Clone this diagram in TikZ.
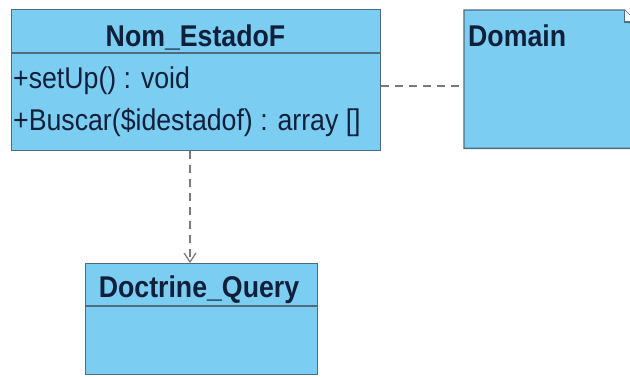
\documentclass[tikz,border=0pt]{standalone}
\usepackage{fontspec}
\setmainfont{Liberation Sans}[FakeStretch=0.89]
\usetikzlibrary{arrows.meta}
\definecolor{classfill}{HTML}{7BCDF2}
\definecolor{classline}{HTML}{4F6B80}
\definecolor{classtext}{HTML}{10203A}
\definecolor{deplines}{HTML}{7A7A7A}
\tikzset{
  classbox/.style={draw=classline, fill=classfill, line width=1.4pt, inner sep=0pt, anchor=north west},
  sepline/.style={draw=classline, line width=1.6pt},
  classname/.style={font=\fontsize{30}{36}\selectfont\bfseries, text=classtext, inner sep=0pt},
  member/.style={font=\fontsize{30}{36}\selectfont, text=classtext, inner sep=0pt, anchor=base west},
  dep/.style={draw=deplines, line width=1.4pt, dash pattern=on 8pt off 6pt},
  opentip/.style={-{Straight Barb[length=9pt, width=12pt, line width=1.2pt]}}
}
\begin{document}
\begin{tikzpicture}[x=1pt, y=-1pt]
  \useasboundingbox (0,0) rectangle (630,376);
  \fill[white] (0,0) rectangle (630,376);

  % class Nom_EstadoF
  \node[classbox, minimum width=369pt, minimum height=141pt] (nom) at (11,9) {};
  \draw[sepline] (nom.west |- 0,53) -- (nom.east |- 0,53);
  \node[classname, anchor=base] (nomt) at (195.5,46) {Nom\_EstadoF};
  \node[member] (m1) at (13,88) {+setUp() : void};
  \node[member] (m2) at (13,130) {+Buscar(\$idestadof) : array []};

  % model element Domain with folded corner
  \node[inner sep=0pt, minimum width=172pt, minimum height=138pt, anchor=north west] (dom) at (464,10) {};
  \filldraw[draw=classline, fill=classfill, line width=1.4pt]
    (dom.north west) -- ([xshift=-12pt]dom.north east) -- ([yshift=-12pt]dom.north east)
    -- (dom.south east) -- (dom.south west) -- cycle;
  \filldraw[draw=classline, fill=white, line width=1.2pt]
    ([xshift=-12pt]dom.north east) -- ([xshift=-12pt,yshift=-12pt]dom.north east) -- ([yshift=-12pt]dom.north east);
  \node[classname, anchor=base west] (domt) at (468,46) {Domain};

  % class Doctrine_Query
  \node[classbox, minimum width=232pt, minimum height=111pt] (dq) at (85,263) {};
  \draw[sepline] (dq.west |- 0,306) -- (dq.east |- 0,306);
  \node[classname, anchor=base] (dqt) at (199,297) {Doctrine\_Query};

  % dependencies
  \draw[dep] (nom.east |- 0,86) -- (dom.west |- 0,86);
  \draw[dep, opentip] (nom.south -| 190,0) -- (dq.north -| 190,0);
\end{tikzpicture}
\end{document}
